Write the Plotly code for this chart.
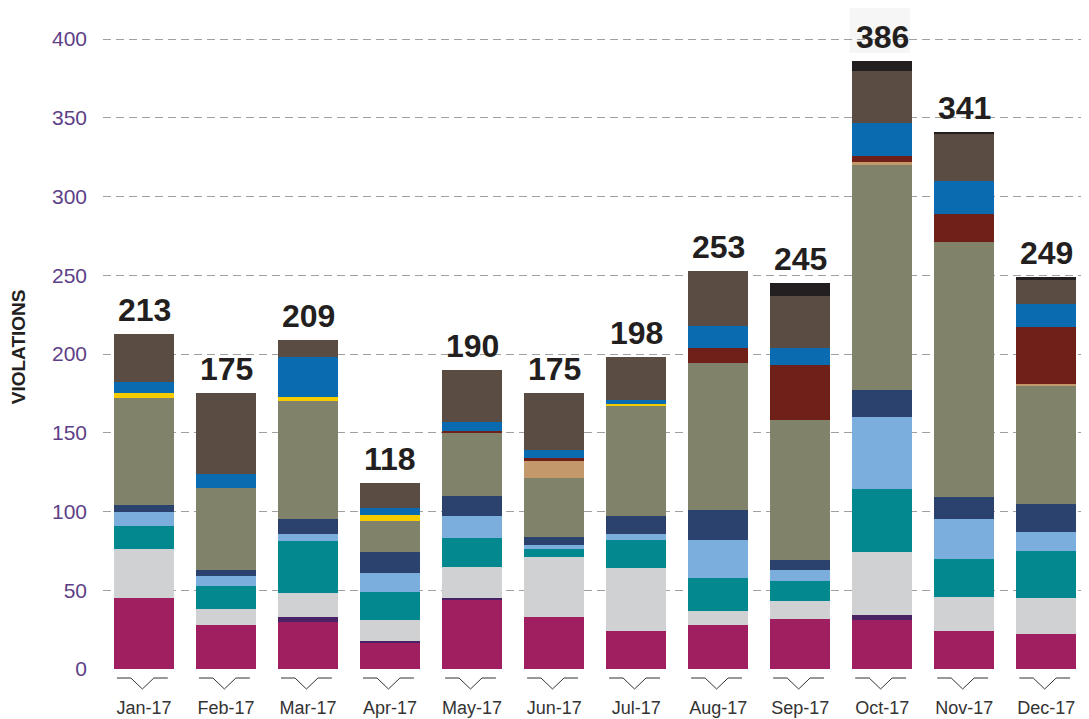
import plotly.graph_objects as go

months = ["Jan-17", "Feb-17", "Mar-17", "Apr-17", "May-17", "Jun-17",
          "Jul-17", "Aug-17", "Sep-17", "Oct-17", "Nov-17", "Dec-17"]

# stacked segments, bottom to top
seg_magenta = [45, 28, 30, 17, 44, 33, 24, 28, 32, 31, 24, 22]
seg_purple  = [0, 0, 3, 1, 1, 0, 0, 0, 0, 3, 0, 0]
seg_gray    = [31, 10, 15, 13, 20, 38, 40, 9, 11, 40, 22, 23]
seg_teal    = [15, 15, 33, 18, 18, 5, 18, 21, 13, 40, 24, 30]
seg_lblue   = [9, 6, 5, 12, 14, 3, 4, 24, 7, 46, 25, 12]
seg_navy    = [4, 4, 9, 13, 13, 5, 11, 19, 6, 17, 14, 18]
seg_olive   = [68, 52, 75, 20, 40, 37, 70, 93, 89, 143, 162, 75]
seg_tan     = [0, 0, 0, 0, 0, 11, 0, 0, 0, 2, 0, 1]
seg_dred    = [0, 0, 0, 0, 1, 2, 0, 10, 35, 4, 18, 36]
seg_yellow  = [3, 0, 3, 4, 0, 0, 1, 0, 0, 0, 0, 0]
seg_blue    = [7, 9, 25, 4, 6, 5, 3, 14, 11, 21, 21, 15]
seg_brown   = [31, 51, 11, 16, 33, 36, 27, 35, 33, 33, 30, 15]
seg_black   = [0, 0, 0, 0, 0, 0, 0, 0, 8, 6, 1, 2]

totals = [213, 175, 209, 118, 190, 175, 198, 253, 245, 386, 341, 249]
y_ticks = [0, 50, 100, 150, 200, 250, 300, 350, 400]

series = [
    (seg_magenta, "#A01F60"),
    (seg_purple, "#4A2366"),
    (seg_gray, "#D0D1D3"),
    (seg_teal, "#038890"),
    (seg_lblue, "#7BAEDD"),
    (seg_navy, "#2B426E"),
    (seg_olive, "#80836A"),
    (seg_tan, "#C3996B"),
    (seg_dred, "#6E2019"),
    (seg_yellow, "#F4CC00"),
    (seg_blue, "#0A6BB0"),
    (seg_brown, "#5A4C43"),
    (seg_black, "#231F20"),
]

fig = go.Figure()
for vals, col in series:
    fig.add_trace(go.Bar(x=months, y=vals, marker=dict(color=col, line=dict(width=0)),
                         showlegend=False, hoverinfo="skip"))

annotations = []
for m, t in zip(months, totals):
    annotations.append(dict(x=m, y=t, text=str(t), showarrow=False, yanchor="bottom",
                            yshift=4, xref="x", yref="y",
                            font=dict(family="Liberation Sans, Arial, sans-serif",
                                      size=32, color="#231F20", weight="bold")))
annotations.append(dict(x=-0.0862, y=0.489, xref="paper", yref="paper", text="VIOLATIONS",
                        textangle=-90, showarrow=False, xanchor="center", yanchor="middle",
                        font=dict(family="Liberation Sans, Arial, sans-serif",
                                  size=19, color="#231F20", weight="bold")))

shapes = []
# light background behind Oct total label
oct_i = months.index("Oct-17")
shapes.append(dict(type="rect", xref="x", yref="paper", x0=oct_i - 0.40, x1=oct_i + 0.34,
                   y0=0.936, y1=1.01, fillcolor="#F6F6F6", line=dict(width=0), layer="below"))
# chevron markers under each category
for i in range(len(months)):
    path = (f"M {i-0.33},-0.0137 L {i-0.16},-0.0137 L {i-0.02},-0.0304 "
            f"L {i+0.12},-0.0137 L {i+0.29},-0.0137")
    shapes.append(dict(type="path", xref="x", yref="paper", path=path,
                       line=dict(color="#333333", width=1)))

fig.update_layout(
    width=1081, height=711,
    margin=dict(l=95, r=0, t=3, b=50),
    paper_bgcolor="white", plot_bgcolor="white",
    barmode="stack", bargap=0.27,
    annotations=annotations, shapes=shapes,
    xaxis=dict(range=[-0.5, 11.52], showgrid=False, zeroline=False, showline=False,
               ticks="", ticklabelstandoff=26,
               tickfont=dict(family="Liberation Sans, Arial, sans-serif",
                             size=18, color="#333333")),
    yaxis=dict(range=[0, 417.8], tickvals=y_ticks, showgrid=True, gridcolor="#A0A0A0",
               griddash="8px,5px", gridwidth=1.2, zeroline=False, showline=False,
               ticks="", ticklabelstandoff=15,
               tickfont=dict(family="Liberation Sans, Arial, sans-serif", size=21,
                             color="#5E3F87")),
)

fig.write_html("out.html")
